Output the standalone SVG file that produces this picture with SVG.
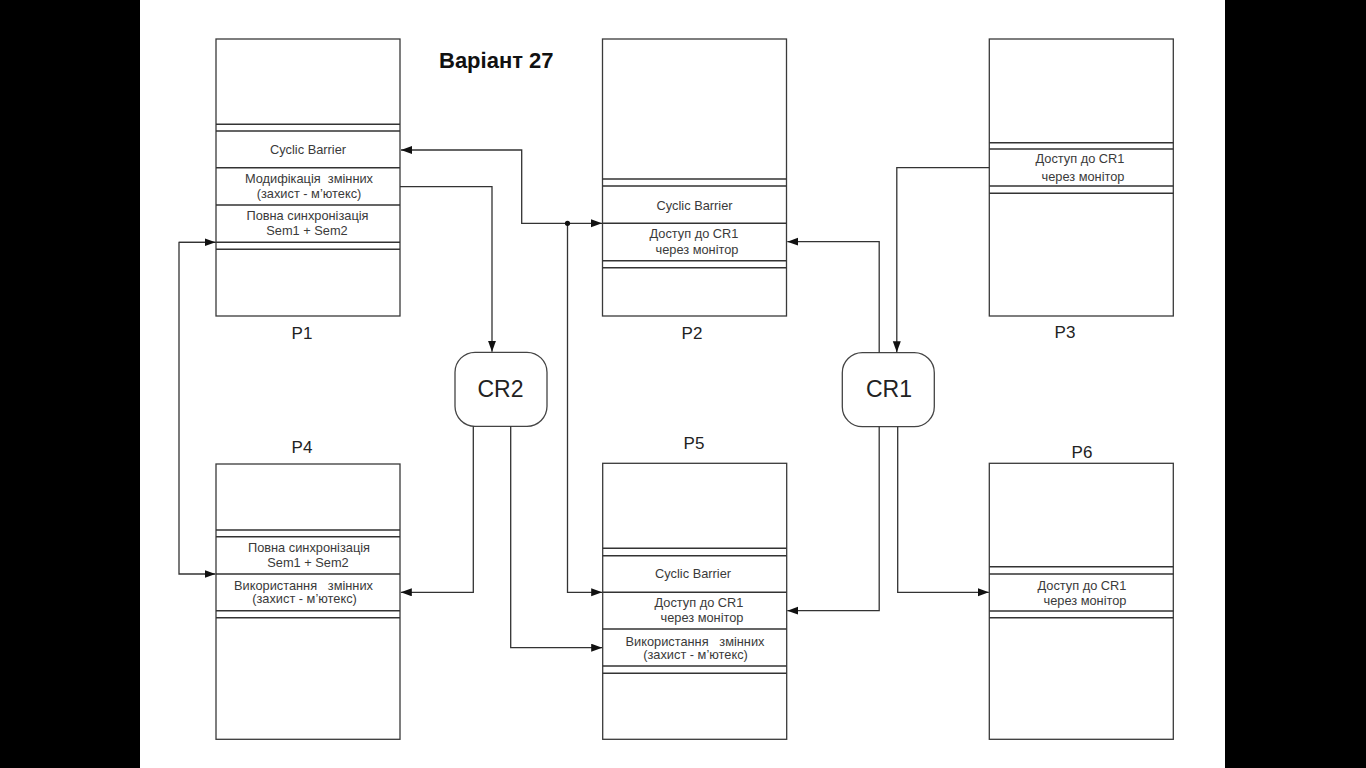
<svg xmlns="http://www.w3.org/2000/svg" width="1366" height="768" viewBox="0 0 1366 768">
<style>
.bg{fill:#000}
.box{fill:#fff;stroke:#3a3a3a;stroke-width:1.3}
.sep{stroke:#333;stroke-width:1.4;fill:none}
.cr{fill:#fff;stroke:#444;stroke-width:1.3}
.t{font-family:"Liberation Sans",Arial,sans-serif;font-size:12.8px;fill:#3a3a3a;text-anchor:middle;white-space:pre}
.lbl{font-family:"Liberation Sans",Arial,sans-serif;font-size:17px;fill:#222;text-anchor:middle}
.crt{font-family:"Liberation Sans",Arial,sans-serif;font-size:23px;fill:#222;text-anchor:middle}
.title{font-family:"Liberation Sans",Arial,sans-serif;font-size:22px;font-weight:bold;fill:#111}
.c{fill:none;stroke:#333;stroke-width:1.3}
</style>
<defs>
<marker id="arr" markerUnits="userSpaceOnUse" markerWidth="12" markerHeight="9" refX="11" refY="4" orient="auto">
<path d="M0,0 L11,4 L0,8 z" fill="#111"/>
</marker>
</defs>
<rect x="0" y="0" width="1366" height="768" fill="#fff"/>
<rect class="bg" x="0" y="0" width="140" height="768"/>
<rect class="bg" x="1225" y="0" width="141" height="768"/>

<text class="title" x="439" y="67.5">Варіант 27</text>

<g id="P1">
<rect class="box" x="216" y="39" width="184" height="277"/>
<path class="sep" d="M216,124.3H400M216,131H400M216,167.7H400M216,205H400M216,242.3H400M216,249.3H400"/>
<text class="t" x="308" y="153.5">Cyclic Barrier</text>
<text class="t" x="309" y="182.5">Модифікація  змінних</text>
<text class="t" x="309" y="197.5">(захист - м’ютекс)</text>
<text class="t" x="307.5" y="219.5">Повна синхронізація</text>
<text class="t" x="307" y="234.5">Sem1 + Sem2</text>
<text class="lbl" x="302" y="339">P1</text>
</g>

<g id="P2">
<rect class="box" x="602.5" y="39" width="184" height="277"/>
<path class="sep" d="M602.5,179H786.5M602.5,186H786.5M602.5,223.3H786.5M602.5,260.7H786.5M602.5,267.7H786.5"/>
<text class="t" x="694.5" y="209.5">Cyclic Barrier</text>
<text class="t" x="694" y="237.5">Доступ до CR1</text>
<text class="t" x="697" y="253.5">через монітор</text>
<text class="lbl" x="692" y="339">P2</text>
</g>

<g id="P3">
<rect class="box" x="989.3" y="39" width="184" height="277"/>
<path class="sep" d="M989.3,142.7H1173.3M989.3,149H1173.3M989.3,186H1173.3M989.3,193.3H1173.3"/>
<text class="t" x="1080" y="162.5">Доступ до CR1</text>
<text class="t" x="1083" y="181">через монітор</text>
<text class="lbl" x="1065" y="338">P3</text>
</g>

<g id="P4">
<rect class="box" x="216" y="464" width="184" height="275.3"/>
<path class="sep" d="M216,530H400M216,536.7H400M216,574H400M216,610.7H400M216,617.7H400"/>
<text class="t" x="309" y="551.5">Повна синхронізація</text>
<text class="t" x="308" y="567">Sem1 + Sem2</text>
<text class="t" x="303.5" y="590">Використання   змінних</text>
<text class="t" x="304.5" y="602.5">(захист - м’ютекс)</text>
<text class="lbl" x="302" y="453">P4</text>
</g>

<g id="P5">
<rect class="box" x="602.7" y="463.3" width="184" height="276"/>
<path class="sep" d="M602.7,548.3H786.7M602.7,555.7H786.7M602.7,592.3H786.7M602.7,629H786.7M602.7,666H786.7M602.7,673.3H786.7"/>
<text class="t" x="693" y="577.5">Cyclic Barrier</text>
<text class="t" x="699" y="607">Доступ до CR1</text>
<text class="t" x="702" y="621.5">через монітор</text>
<text class="t" x="695" y="645.5">Використання   змінних</text>
<text class="t" x="695.5" y="658.5">(захист - м’ютекс)</text>
<text class="lbl" x="694" y="449">P5</text>
</g>

<g id="P6">
<rect class="box" x="989.3" y="463.3" width="184" height="276"/>
<path class="sep" d="M989.3,566.7H1173.3M989.3,574H1173.3M989.3,611H1173.3M989.3,617.7H1173.3"/>
<text class="t" x="1082" y="589.5">Доступ до CR1</text>
<text class="t" x="1085" y="604.5">через монітор</text>
<text class="lbl" x="1082" y="457.5">P6</text>
</g>

<g id="CR2">
<rect class="cr" x="455" y="352.3" width="92" height="74" rx="20" ry="20"/>
<text class="crt" x="500.5" y="396.5">CR2</text>
</g>

<g id="CR1">
<rect class="cr" x="842.3" y="352.7" width="92" height="74" rx="20" ry="20"/>
<text class="crt" x="889" y="396.5">CR1</text>
</g>

<g id="connectors">
<path class="c" d="M567.5,223.3H521.7V150H401" marker-end="url(#arr)"/>
<path class="c" d="M567.5,223.3H602" marker-end="url(#arr)"/>
<path class="c" d="M567.5,223.3V592.3H602.2" marker-end="url(#arr)"/>
<circle cx="567.5" cy="223.3" r="2.6" fill="#111"/>
<path class="c" d="M400,186.7H492V351.8" marker-end="url(#arr)"/>
<path class="c" d="M216,242.3H179V574H215.5" marker-end="url(#arr)"/>
<path class="c" d="M179,242.3H215.5" marker-end="url(#arr)"/>
<path class="c" d="M473.3,426.3V592.3H400.8" marker-end="url(#arr)"/>
<path class="c" d="M510.7,426.3V647.7H602.2" marker-end="url(#arr)"/>
<path class="c" d="M879.2,352.7V241.7H787.3" marker-end="url(#arr)"/>
<path class="c" d="M989.3,167.7H896.8V352.2" marker-end="url(#arr)"/>
<path class="c" d="M879.2,426.7V610.7H787.3" marker-end="url(#arr)"/>
<path class="c" d="M897.7,426.7V592.3H988.8" marker-end="url(#arr)"/>
</g>
</svg>
